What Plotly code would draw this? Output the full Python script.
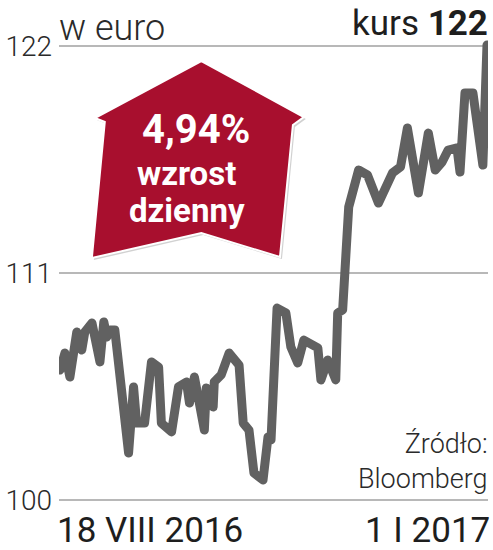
import plotly.graph_objects as go

# ---- data ----
days = [0, 1.8, 3.6, 6.1, 7.9, 9.0, 11.6, 12.6, 14.5, 15.9, 17.0, 18.1, 19.9,
        24.9, 26.7, 27.8, 30.7, 33.2, 35.8, 36.8, 40.5, 43.0, 45.9, 47.0, 48.8,
        52.4, 53.1, 55.6, 56.0, 58.5, 61.4, 65.0, 66.5, 68.6, 70.4, 73.7, 75.5,
        76.6, 78.8, 82.0, 83.8, 86.3, 88.5, 93.6, 94.7, 97.2, 100.1, 100.8,
        102.6, 104.8, 106.2, 108.4, 111.6, 115.6, 120.7, 123.6, 126.1, 130.1,
        133.7, 136.2, 138.7, 140.9, 144.1, 145.2, 147.0, 149.9, 153.5, 155.0]
kurs = [106.30, 107.12, 105.96, 108.14, 107.27, 108.14, 108.58, 107.90, 106.69,
        108.63, 107.90, 108.24, 108.24, 102.28, 105.48, 103.73, 103.73, 106.69,
        106.44, 103.73, 103.30, 105.48, 105.72, 104.70, 105.96, 103.39, 105.43,
        104.51, 105.72, 106.06, 107.12, 106.54, 103.73, 103.39, 101.31, 100.97,
        103.05, 102.91, 109.30, 109.06, 107.41, 106.64, 107.75, 107.37, 105.82,
        106.78, 105.82, 109.06, 109.21, 114.20, 114.88, 115.99, 115.75, 114.39,
        115.85, 116.14, 118.03, 114.88, 117.78, 115.99, 116.38, 116.96, 117.06,
        115.89, 119.72, 119.72, 116.23, 122.05]
y_ticks = [100, 111, 122]
y_tick_labels = ["100", "111", "122"]
x_labels = ["18 VIII 2016", "1 I 2017"]
unit_label = "w euro"
last_label = "kurs <b>122</b>"
badge_lines = ["4,94%", "wzrost", "dzienny"]
source_label = "Źródło:<br>Bloomberg"

W, H = 493, 550
ML, MR, MT, MB = 57, 5, 25, 40
PW, PH = W - ML - MR, H - MT - MB


def px2x(px):
    return (px - ML) / PW


def py2y(py):
    return (H - MB - py) / PH


fig = go.Figure()
fig.add_trace(go.Scatter(
    x=days, y=kurs, mode="lines",
    line=dict(color="#616161", width=9, shape="linear"),
    hoverinfo="skip", showlegend=False,
))

# badge (arrow) shape
pts = [(200, 61), (303, 117), (292, 125), (279, 257), (200, 233),
       (90, 258), (103, 122), (93, 118)]


def make_path(dx=0, dy=0):
    s = ""
    for i, (px, py) in enumerate(pts):
        s += ("M" if i == 0 else "L") + f"{px2x(px + dx):.5f},{py2y(py + dy):.5f} "
    return s + "Z"


shapes = [
    dict(type="path", xref="paper", yref="paper", path=make_path(2, 2),
         fillcolor="rgba(0,0,0,0.18)", line=dict(width=0), layer="above"),
    dict(type="path", xref="paper", yref="paper", path=make_path(),
         fillcolor="#a80f2e", line=dict(color="white", width=2), layer="above"),
]

ann = []
ann.append(dict(x=px2x(55), y=py2y(28), xref="paper", yref="paper",
                text=unit_label, showarrow=False, xanchor="left", yanchor="middle",
                font=dict(family="Roboto", size=36, color="#2a2a2a", weight=300)))
ann.append(dict(x=px2x(490), y=py2y(23), xref="paper", yref="paper",
                text=last_label, showarrow=False, xanchor="right", yanchor="middle",
                font=dict(family="Roboto", size=35, color="#1e1e1e", weight=400)))
ann.append(dict(x=px2x(195), y=py2y(129), xref="paper", yref="paper",
                text=f"<b>{badge_lines[0]}</b>", showarrow=False, xanchor="center", yanchor="middle",
                font=dict(family="Roboto", size=40, color="white")))
ann.append(dict(x=px2x(185), y=py2y(173), xref="paper", yref="paper",
                text=f"<b>{badge_lines[1]}</b>", showarrow=False, xanchor="center", yanchor="middle",
                font=dict(family="Roboto", size=33, color="white")))
ann.append(dict(x=px2x(186), y=py2y(211), xref="paper", yref="paper",
                text=f"<b>{badge_lines[2]}</b>", showarrow=False, xanchor="center", yanchor="middle",
                font=dict(family="Roboto", size=33, color="white")))
ann.append(dict(x=px2x(490), y=py2y(461), xref="paper", yref="paper",
                text=source_label, showarrow=False, xanchor="right", yanchor="middle",
                align="right",
                font=dict(family="Roboto", size=27, color="#2a2a2a", weight=300)))
ann.append(dict(x=px2x(53), y=py2y(530), xref="paper", yref="paper",
                text=x_labels[0], showarrow=False, xanchor="left", yanchor="middle",
                font=dict(family="Roboto", size=35, color="#1e1e1e")))
ann.append(dict(x=px2x(492), y=py2y(530), xref="paper", yref="paper",
                text=x_labels[1], showarrow=False, xanchor="right", yanchor="middle",
                font=dict(family="Roboto", size=35, color="#1e1e1e")))

ppu = 454 / 22.0
y_top = 122 + (46 - MT) / ppu
y_bot = 100 - (H - MB - 500) / ppu
ppd = 429 / 155.0
fig.update_layout(
    width=W, height=H,
    margin=dict(l=ML, r=MR, t=MT, b=MB, pad=0),
    paper_bgcolor="white", plot_bgcolor="white",
    showlegend=False,
    xaxis=dict(range=[-1 / ppd, 155 + 1 / ppd], showgrid=False, zeroline=False,
               showticklabels=False, showline=False, ticks=""),
    yaxis=dict(range=[y_bot, y_top], tickvals=y_ticks, ticktext=y_tick_labels,
               showgrid=True, gridcolor="#b8b8b8", gridwidth=2, zeroline=False,
               showline=False, ticks="", ticklabelstandoff=6,
               tickfont=dict(family="Roboto", size=28, color="#2a2a2a", weight=300)),
    shapes=shapes, annotations=ann,
)
post = (
    "document.body.style.margin='0px';document.body.style.overflow='hidden';"
    "document.querySelectorAll('.scatterlayer .js-line').forEach(function(p){"
    "p.style.strokeLinejoin='round';p.style.strokeLinecap='round';});"
)
fig.write_html("out.html", config={"displayModeBar": False}, post_script=post)
